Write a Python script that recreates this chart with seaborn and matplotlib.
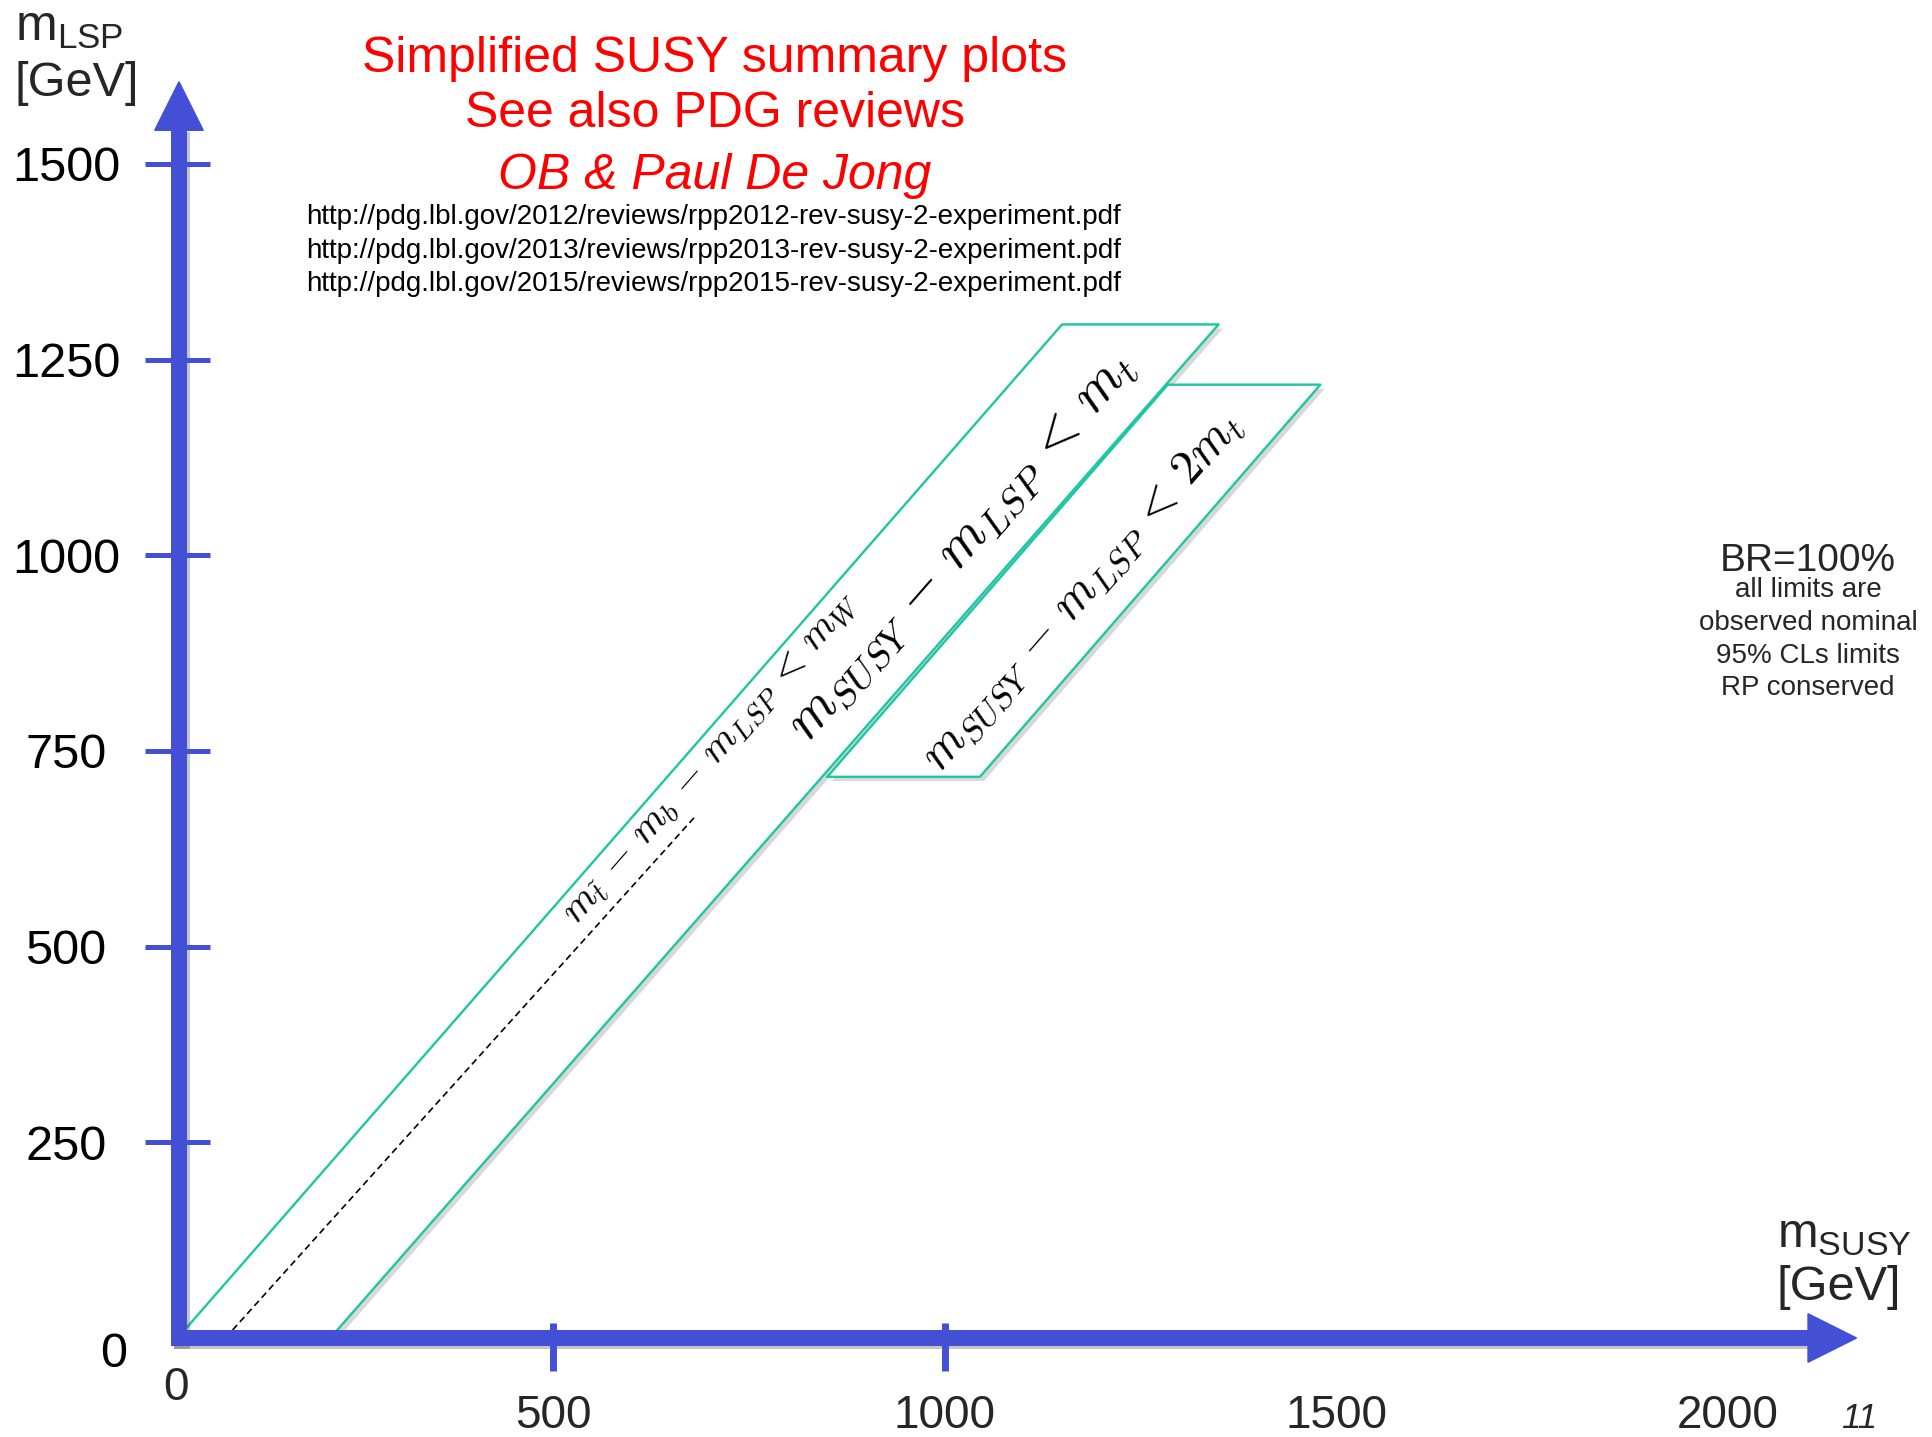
import matplotlib
matplotlib.use("Agg")
import matplotlib.pyplot as plt
import matplotlib.patheffects as pe
from matplotlib import font_manager
import seaborn as sns
import pandas as pd

# ---------------- data ----------------
y_tick_values = [250, 500, 750, 1000, 1250, 1500]
y_tick_labels = ["250", "500", "750", "1000", "1250", "1500"]
x_tick_values = [500, 1000]
x_label_values = [500, 1000, 1500, 2000]
x_label_texts = ["500", "1000", "1500", "2000"]

band1_msusy = [20, 1150, 1350, 215]
band1_mlsp = [0, 1295, 1295, 0]
band2_msusy = [850, 1285, 1480, 1045]
band2_mlsp = [717, 1218, 1218, 717]
dashed_msusy = [81, 680]
dashed_mlsp = [0, 665]

title_lines = ["Simplified SUSY summary plots", "See also PDG reviews", "OB & Paul De Jong"]
url_lines = [
    "http://pdg.lbl.gov/2012/reviews/rpp2012-rev-susy-2-experiment.pdf",
    "http://pdg.lbl.gov/2013/reviews/rpp2013-rev-susy-2-experiment.pdf",
    "http://pdg.lbl.gov/2015/reviews/rpp2015-rev-susy-2-experiment.pdf",
]
note_lines = ["all limits are", "observed nominal", "95% CLs limits", "RP conserved"]
band_labels = [r"$m_{\tilde{t}}\,-\,m_b\,-\,m_{LSP}\,<\,m_W$",
               r"$m_{SUSY}\,-\,m_{LSP}\,<\,m_t$",
               r"$m_{SUSY}\,-\,m_{LSP}\,<\,2m_t$"]

# ---------------- style ----------------
sns.set_theme(style="white")
plt.rcParams['font.family'] = ['Liberation Sans', 'DejaVu Sans']


def has_font(name):
    try:
        font_manager.findfont(font_manager.FontProperties(family=name),
                              fallback_to_default=False)
        return True
    except Exception:
        return False


NARROW = 'Liberation Sans Narrow' if has_font('Liberation Sans Narrow') else None

BLUE = "#4350D5"
TEAL = "#1CC7A2"
RED = "#FF0000"

W, H = 1933, 1437
X0, Y0, S = 162.0, 1338.0, 0.7827   # pixel origin and px per GeV

fig = plt.figure(figsize=(W / 100, H / 100), dpi=100)
ax = fig.add_axes([0, 0, 1, 1])
ax.set_xlim(-X0 / S, (W - X0) / S)
ax.set_ylim((Y0 - H) / S, Y0 / S)
ax.axis('off')


def P(x, y):
    return x / W, 1 - y / H


# ---------------- bands ----------------
shadow = [pe.withSimplePatchShadow(offset=(3, -3), shadow_rgbFace='0.5', alpha=0.3)]
ax.fill(band1_msusy, band1_mlsp, facecolor='white', edgecolor='none', zorder=1,
        path_effects=shadow)
ax.fill(band2_msusy, band2_mlsp, facecolor='white', edgecolor='none', zorder=1.1,
        path_effects=shadow)

outline = pd.DataFrame({
    "msusy": band1_msusy + band1_msusy[:1] + band2_msusy + band2_msusy[:1],
    "mlsp": band1_mlsp + band1_mlsp[:1] + band2_mlsp + band2_mlsp[:1],
    "band": ["b1"] * 5 + ["b2"] * 5,
})
sns.lineplot(data=outline, x="msusy", y="mlsp", units="band", estimator=None,
             sort=False, color=TEAL, lw=1.7, ax=ax, zorder=2, legend=False)

dash_df = pd.DataFrame({"msusy": dashed_msusy, "mlsp": dashed_mlsp})
sns.lineplot(data=dash_df, x="msusy", y="mlsp", estimator=None, sort=False,
             color="black", lw=1.2, ax=ax, zorder=2, legend=False)
ax.lines[-1].set_linestyle((0, (4, 2.5)))
ax.set_xlabel("")
ax.set_ylabel("")

# band texts
ang = 48.8
for txt, (px, py), fs in zip(band_labels, [(711, 758), (961, 546), (1082, 592)], [29, 40, 35]):
    fig.text(*P(px, py), txt, fontsize=fs, rotation=ang, rotation_mode='anchor',
             ha='center', va='center', math_fontfamily='cm', color='black', zorder=3)

# ---------------- axes arrows ----------------
ax_shadow = [pe.SimpleLineShadow(offset=(2, -2), alpha=0.25), pe.Normal()]
ax.plot([21.7, 21.7], [-10, 1545], color=BLUE, lw=11.5, solid_capstyle='butt',
        zorder=5, path_effects=ax_shadow)
ax.plot([11.5, 2105], [0, 0], color=BLUE, lw=11.5, solid_capstyle='butt',
        zorder=5, path_effects=ax_shadow)
ax.fill([21.7 - 31, 21.7 + 31, 21.7], [1543, 1543, 1605], color=BLUE, zorder=5)
ax.fill([2103, 2103, 2165], [31, -31, 0], color=BLUE, zorder=5)

for v in y_tick_values:
    ax.plot([-21.7, 61.3], [v, v], color=BLUE, lw=3.6, solid_capstyle='butt', zorder=6)
for v in x_tick_values:
    ax.plot([v, v], [19, -42], color=BLUE, lw=5.0, solid_capstyle='butt', zorder=6)

# tick labels
for v, lab in zip(y_tick_values, y_tick_labels):
    ax.text(-122.6, v, lab, fontsize=35, ha='center', va='center_baseline', color='black')
ax.text(-62, -15, "0", fontsize=35, ha='center', va='center_baseline', color='black')

xfam = [NARROW, 'Liberation Sans'] if NARROW else ['Liberation Sans']
xfs = 37 if NARROW else 33
ax.text(18, -57.5, "0", fontsize=xfs, family=xfam, ha='center', va='center_baseline')
for v, lab in zip(x_label_values, x_label_texts):
    ax.text(v, -93, lab, fontsize=xfs, family=xfam, ha='center', va='center_baseline')
fig.text(*P(1859, 1415), "11", fontsize=25, style='italic', ha='center',
         va='center_baseline', family=xfam)

# axis titles
fig.text(*P(15, 41), r"m$_{\mathregular{LSP}}$", fontsize=36, ha='left', va='baseline')
fig.text(*P(15, 96), "[GeV]", fontsize=35, ha='left', va='baseline')
fig.text(*P(1777, 1248), r"m$_{\mathregular{SUSY}}$", fontsize=35, ha='left', va='baseline')
fig.text(*P(1777, 1300), "[GeV]", fontsize=35, ha='left', va='baseline')

# ---------------- header texts ----------------
tfam = [NARROW, 'Liberation Sans'] if NARROW else ['Liberation Sans']
tfs = 41 if NARROW else 36
for i, (line, by) in enumerate(zip(title_lines, [71.5, 127, 188.6])):
    fig.text(*P(715, by), line, fontsize=tfs, color=RED, ha='center', va='baseline',
             family=tfam, style='italic' if i == 2 else 'normal')

ufs = 24 if NARROW else 20
for line, by in zip(url_lines, [224, 258, 291]):
    fig.text(*P(714, by), line, fontsize=ufs, color='black', ha='center', va='baseline',
             family=tfam)

fig.text(*P(1808, 571), "BR=100%", fontsize=28, ha='center', va='baseline')
for line, by in zip(note_lines, [597, 630, 663, 695]):
    fig.text(*P(1808, by), line, fontsize=20, ha='center', va='baseline')

fig.savefig("out.png", dpi=100)
